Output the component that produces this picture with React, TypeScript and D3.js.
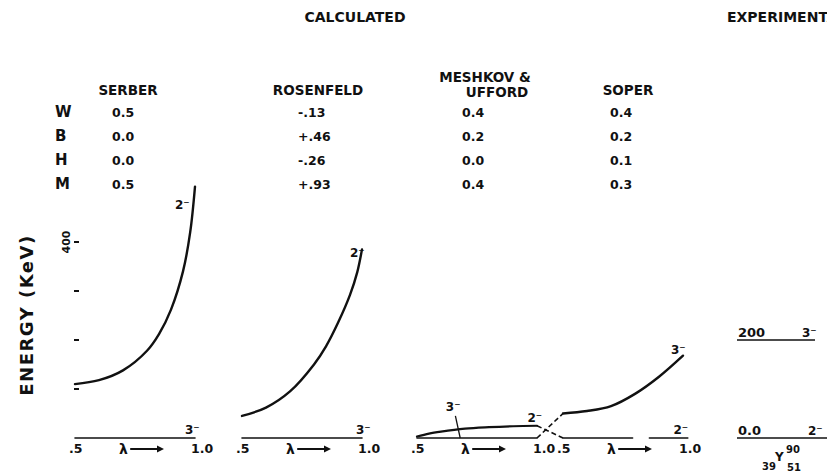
import React from 'react';
import * as d3 from 'd3';

const W = 827;
const H = 476;

// table of exchange-force mixtures
const modelNames = [["SERBER"], ["ROSENFELD"], ["MESHKOV &", "UFFORD"], ["SOPER"]];
const exchangeLabels = ["W", "B", "H", "M"];
const serberMix = ["0.5", "0.0", "0.0", "0.5"];
const rosenfeldMix = ["-.13", "+.46", "-.26", "+.93"];
const meshkovMix = ["0.4", "0.2", "0.0", "0.4"];
const soperMix = ["0.4", "0.2", "0.1", "0.3"];

const energyTicks = [100, 200, 300, 400];
const energyTickLabels = ["", "", "", "400"];
const lambdaTickLabels = [".5", "1.0"];

// level energies (keV) vs lambda
const serberLambda = [0.5, 0.6, 0.7, 0.8, 0.85, 0.9, 0.95, 0.98, 1.0];
const serber2Minus = [110, 118, 138, 178, 212, 262, 340, 420, 513];
const rosenfeldLambda = [0.5, 0.6, 0.7, 0.8, 0.85, 0.9, 0.95, 0.98, 1.0];
const rosenfeld2Minus = [45, 62, 95, 150, 187, 235, 292, 338, 385];
const meshkovLambda = [0.5, 0.55, 0.6, 0.7, 0.8, 0.9, 1.0];
const meshkov2Minus = [3, 9, 13, 19, 22, 24, 25];
const soperLambda = [0.5, 0.6, 0.7, 0.8, 0.9, 1.0];
const soper3Minus = [50, 55, 65, 90, 125, 168];
const groundLambda = [0.5, 1.0];
const groundEnergy = [0, 0];
const soper2Lambda = [0.5, 0.79, NaN, 0.86, 1.02];
const soper2Minus = [0, 0, NaN, 0, 0];

// experiment, Y-90
const expEnergy = [0, 200];
const expValue = ["0.0", "200"];
const expSpin = ["2⁻", "3⁻"];

const FONT = "'DejaVu Sans', sans-serif";

type Pt = { l: number; e: number };
const zip = (ls: number[], es: number[]): Pt[] => ls.map((l, i) => ({ l, e: es[i] }));

const App: React.FC = () => {
  const y = d3.scaleLinear().domain([0, 400]).range([438, 242]);
  const panelX0 = [75, 242, 417, 563];
  const xs = panelX0.map(x0 => d3.scaleLinear().domain([0.5, 1.0]).range([x0, x0 + 120]));
  const mixes = [serberMix, rosenfeldMix, meshkovMix, soperMix];
  const mixX = [112, 298, 462, 610];
  const headX = [128, 318, 485, 628];
  const rowY = [117, 141, 165, 189];

  const lineFor = (x: d3.ScaleLinear<number, number>) =>
    d3.line<Pt>()
      .defined(d => !isNaN(d.l))
      .x(d => x(d.l))
      .y(d => y(d.e))
      .curve(d3.curveCatmullRom.alpha(0.5));

  const curves: { x: d3.ScaleLinear<number, number>; pts: Pt[]; w: number }[] = [
    { x: xs[0], pts: zip(serberLambda, serber2Minus), w: 2.4 },
    { x: xs[0], pts: zip(groundLambda, groundEnergy), w: 1.6 },
    { x: xs[1], pts: zip(rosenfeldLambda, rosenfeld2Minus), w: 2.4 },
    { x: xs[1], pts: zip(groundLambda, groundEnergy), w: 1.6 },
    { x: xs[2], pts: zip(meshkovLambda, meshkov2Minus), w: 2.2 },
    { x: xs[2], pts: zip(groundLambda, groundEnergy), w: 1.6 },
    { x: xs[3], pts: zip(soperLambda, soper3Minus), w: 2.4 },
    { x: xs[3], pts: zip(soper2Lambda, soper2Minus), w: 1.6 },
  ];

  const bold = { fontFamily: FONT, fontWeight: 700, fill: '#111' } as const;
  const spin = (x: number, yy: number, s: string) => (
    <text x={x} y={yy} fontSize={12} {...bold}>{s}</text>
  );

  return (
    <svg width={W} height={H} style={{ position: 'absolute', left: 0, top: 0, background: '#fff' }}>
      <rect width={W} height={H} fill="#fff" />
      <text x={355} y={22} fontSize={14} textAnchor="middle" {...bold}>CALCULATED</text>
      <text x={727} y={22} fontSize={14} {...bold}>EXPERIMENTAL</text>

      {modelNames.map((lines, i) => lines.map((s, j) => (
        <text key={`h${i}${j}`} x={headX[i] + (lines.length > 1 ? j * 12 : 0)}
          y={lines.length > 1 ? 82 + j * 15 : 95} fontSize={13.5} textAnchor="middle" {...bold}>{s}</text>
      )))}
      {exchangeLabels.map((s, r) => (
        <text key={`r${r}`} x={55} y={rowY[r]} fontSize={15} {...bold}>{s}</text>
      ))}
      {mixes.map((col, i) => col.map((s, r) => (
        <text key={`v${i}${r}`} x={mixX[i]} y={rowY[r]} fontSize={12.5} {...bold}>{s}</text>
      )))}

      <text transform={`translate(33,315) rotate(-90)`} fontSize={18} letterSpacing={1.5}
        textAnchor="middle" {...bold}>ENERGY  (KeV)</text>
      {energyTicks.map((t, i) => (
        <g key={`t${t}`}>
          <line x1={74} x2={79} y1={y(t)} y2={y(t)} stroke="#111" strokeWidth={2} />
          {energyTickLabels[i] && (
            <text transform={`translate(70,${y(t)}) rotate(-90)`} fontSize={11}
              textAnchor="middle" {...bold}>{energyTickLabels[i]}</text>
          )}
        </g>
      ))}

      {curves.map((c, i) => (
        <path key={`c${i}`} d={lineFor(c.x)(c.pts) ?? ''} fill="none" stroke="#111"
          strokeWidth={c.w} strokeLinecap="round" />
      ))}

      {/* level crossing between Meshkov-Ufford and Soper */}
      <line x1={xs[2](1.0)} y1={y(meshkov2Minus[meshkov2Minus.length - 1])}
        x2={xs[3](0.5)} y2={y(soper2Minus[0])} stroke="#111" strokeWidth={1.6} strokeDasharray="5,3" />
      <line x1={xs[2](1.0)} y1={y(0)} x2={xs[3](0.5)} y2={y(soper3Minus[0])}
        stroke="#111" strokeWidth={1.6} strokeDasharray="5,3" />
      <line x1={xs[2](0.68)} y1={y(0)} x2={xs[2](0.66)} y2={y(45)} stroke="#111" strokeWidth={1.3} />

      {xs.map((x, i) => (
        <g key={`ax${i}`}>
          <text x={x(0.5) - 6} y={453} fontSize={12.5} {...bold}>{lambdaTickLabels[0]}</text>
          <text x={x(1.0) - 4} y={453} fontSize={12.5} {...bold}>{lambdaTickLabels[1]}</text>
          <text x={x(0.72)} y={454} fontSize={14} textAnchor="end" {...bold}>λ</text>
          <line x1={x(0.73)} x2={x(0.85)} y1={449} y2={449} stroke="#111" strokeWidth={2} />
          <path d={`M${x(0.85) + 5},449 L${x(0.85) - 2},445.5 L${x(0.85) - 2},452.5 Z`} fill="#111" />
        </g>
      ))}

      {spin(xs[0](1.0) - 20, y(serber2Minus[serber2Minus.length - 1]) + 22, "2⁻")}
      {spin(xs[0](1.0) - 10, y(0) - 4, "3⁻")}
      {spin(xs[1](1.0) - 12, y(rosenfeld2Minus[rosenfeld2Minus.length - 1]) + 8, "2⁻")}
      {spin(xs[1](1.0) - 6, y(0) - 4, "3⁻")}
      {spin(xs[2](0.62), y(55), "3⁻")}
      {spin(xs[2](0.96), y(32), "2⁻")}
      {spin(xs[3](1.0) - 12, y(soper3Minus[soper3Minus.length - 1]) - 2, "3⁻")}
      {spin(xs[3](0.96), y(0) - 4, "2⁻")}

      {expEnergy.map((e, i) => (
        <g key={`e${i}`}>
          <line x1={737} x2={i === 0 ? 827 : 815} y1={y(e)} y2={y(e)} stroke="#111" strokeWidth={1.6} />
          <text x={738} y={y(e) - 3} fontSize={13} {...bold}>{expValue[i]}</text>
          {spin(i === 0 ? 808 : 802, y(e) - 3, expSpin[i])}
        </g>
      ))}
      <text x={762} y={470} fontSize={10} {...bold}>39</text>
      <text x={775} y={461} fontSize={12} {...bold}>Y</text>
      <text x={786} y={453} fontSize={10} {...bold}>90</text>
      <text x={787} y={471} fontSize={10} {...bold}>51</text>
    </svg>
  );
};

export default App;
